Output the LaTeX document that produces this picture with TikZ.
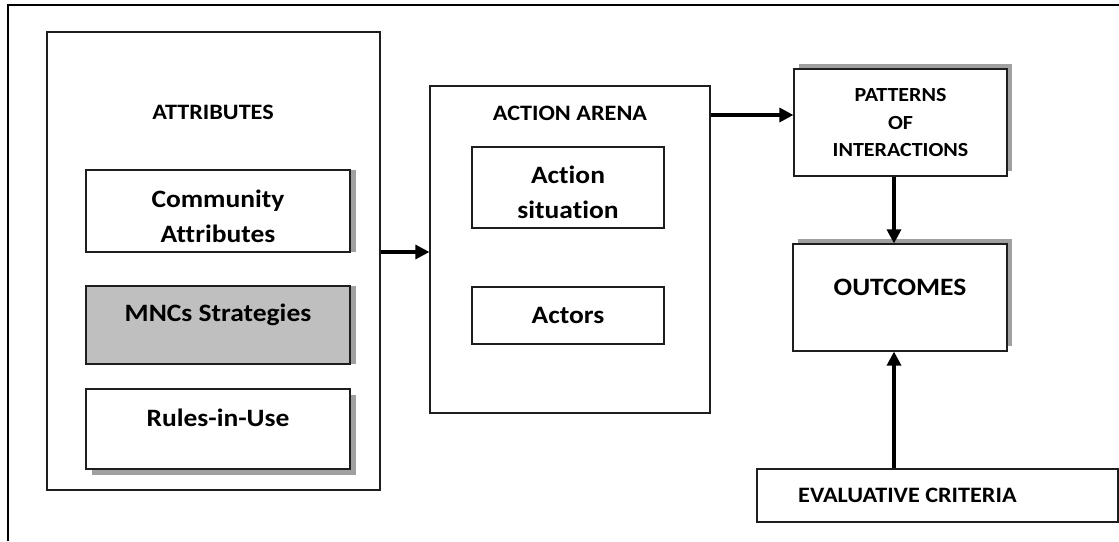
\documentclass[tikz,border=0pt]{standalone}
\usepackage{fontspec}
\setmainfont{Carlito}[FakeStretch=1.1,Ligatures=NoCommon]
\usetikzlibrary{shadows,arrows.meta,calc}
\definecolor{shadowgray}{RGB}{160,160,160}
\definecolor{boxgray}{RGB}{191,191,191}
\definecolor{linecol}{RGB}{30,30,30}
\begin{document}
\begin{tikzpicture}[x=1pt,y=-1pt,
  box/.style={draw=linecol,line width=1.2pt,fill=white,inner sep=0pt},
  sh/.style n args={2}{drop shadow={shadow xshift=#1,shadow yshift=#2,fill=shadowgray,opacity=1}},
  head/.style={font=\bfseries\fontsize{22}{26}\selectfont,align=center,inner sep=0pt},
  big/.style={font=\bfseries\fontsize{25}{35}\selectfont,align=center,inner sep=0pt},
  small/.style={font=\bfseries\fontsize{20}{27.5}\selectfont,align=center,inner sep=0pt},
  arr/.style={line width=3.2pt,-{Triangle[length=14pt,width=14pt]}},
  frame/.style={draw=black,line width=1.2pt}
]
\useasboundingbox (0,0) rectangle (1119,541);
% outer frame (only top and left visible)
\coordinate (fa) at (8,541);
\coordinate (fb) at (8,5);
\coordinate (fc) at (1119,5);
\draw[frame] (fa) -- (fb) -- (fc);

% attributes column
\node[box,minimum width=333pt,minimum height=458pt] (attr) at (213.5,261) {};
\node[head] (attrT) at (213,112) {ATTRIBUTES};
\node[box,sh={6pt}{0pt},minimum width=264pt,minimum height=82pt] (comm) at (218,211) {};
\node[big] (commT) at (218,216) {Community\\Attributes};
\node[box,fill=boxgray,sh={6pt}{0pt},minimum width=264pt,minimum height=78pt] (mnc) at (218,325) {};
\node[big] (mncT) at (218,315) {MNCs Strategies};
\node[box,sh={6pt}{-6pt},minimum width=264pt,minimum height=80pt] (rules) at (218,429) {};
\node[big] (rulesT) at (218,418) {Rules-in-Use};

% action arena
\node[box,minimum width=280pt,minimum height=327pt] (arena) at (570,249.5) {};
\node[head] (arenaT) at (570,113) {ACTION ARENA};
\node[box,minimum width=192pt,minimum height=81pt] (sit) at (568,187.5) {};
\node[big] (sitT) at (568,192) {Action\\situation};
\node[box,minimum width=192pt,minimum height=57pt] (act) at (568,315.5) {\bfseries\fontsize{25}{30}\selectfont Actors};

% patterns and outcomes
\node[box,sh={5pt}{5pt},minimum width=213pt,minimum height=107pt] (pat) at (900.5,122.5) {};
\node[small] (patT) at (900.5,123) {PATTERNS\\OF\\INTERACTIONS};
\node[box,sh={5pt}{5pt},minimum width=214pt,minimum height=107pt] (out) at (900,297.5) {};
\node[big] (outT) at (900,287) {OUTCOMES};
\node[box,minimum width=361pt,minimum height=53pt] (eval) at (937.5,495.5) {};
\node[head,anchor=west] (evalT) at (798,495) {EVALUATIVE CRITERIA};

% connectors
\coordinate (y1) at (0,252);
\coordinate (y2) at (0,115);
\coordinate (x3) at (894,0);
\draw[arr] (attr.east |- y1) -- (arena.west |- y1);
\draw[arr] (arena.east |- y2) -- (pat.west |- y2);
\draw[arr] (pat.south -| x3) -- (out.north -| x3);
\draw[arr] (eval.north -| x3) -- (out.south -| x3);
\end{tikzpicture}
\end{document}
